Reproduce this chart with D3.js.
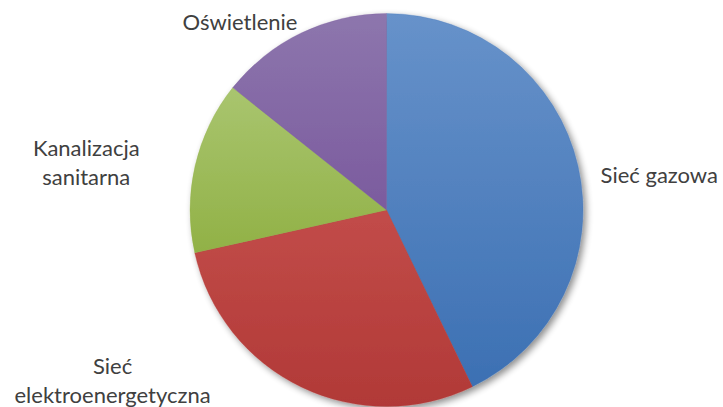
<!DOCTYPE html>
<html>
<head>
<meta charset="utf-8">
<script src="https://cdn.jsdelivr.net/npm/d3@7"></script>
<style>
  html, body { margin: 0; padding: 0; background: #ffffff; }
  svg { display: block; }
</style>
</head>
<body>
<svg id="chart" width="723" height="407"></svg>
<script>
// ---- data ----
const categories = ["Sieć gazowa", "Sieć elektroenergetyczna", "Kanalizacja sanitarna", "Oświetlenie"];
const values = [42.8, 28.7, 14.2, 14.3];
const labelLines = [["Sieć gazowa"], ["Sieć", "elektroenergetyczna"], ["Kanalizacja", "sanitarna"], ["Oświetlenie"]];
const colorsTop = ["#6792ca", "#c24c49", "#a9c56f", "#8d76ad"];
const colorsBottom = ["#3c70b3", "#b13937", "#91b146", "#7b5b9e"];

// ---- layout ----
const W = 723, H = 407;
const cx = 386.5, cy = 210, R = 196.5;
// label placement: angle (deg, clockwise from top) and radius from the pie centre
const labelPlace = [
  { angle: 82.7, radius: 275, anchor: "middle" },
  { angle: 238, radius: 323, anchor: "middle" },
  { angle: 279, radius: 304, anchor: "middle" },
  { angle: 322, radius: 238, anchor: "middle" }
];

const svg = d3.select("#chart");
const defs = svg.append("defs");

const shadow = defs.append("filter").attr("id", "shadow")
  .attr("x", "-20%").attr("y", "-20%").attr("width", "140%").attr("height", "140%");
shadow.append("feGaussianBlur").attr("in", "SourceAlpha").attr("stdDeviation", 3.5).attr("result", "b");
shadow.append("feOffset").attr("in", "b").attr("dx", 3).attr("dy", 3).attr("result", "o");
shadow.append("feComponentTransfer").attr("in", "o").attr("result", "s")
  .append("feFuncA").attr("type", "linear").attr("slope", 0.45);
const merge = shadow.append("feMerge");
merge.append("feMergeNode").attr("in", "s");
merge.append("feMergeNode").attr("in", "SourceGraphic");

categories.forEach((c, i) => {
  const g = defs.append("linearGradient").attr("id", "grad" + i)
    .attr("x1", 0).attr("y1", 0).attr("x2", 0).attr("y2", 1);
  g.append("stop").attr("offset", "0%").attr("stop-color", colorsTop[i]);
  g.append("stop").attr("offset", "100%").attr("stop-color", colorsBottom[i]);
});

const pie = d3.pie().sort(null).value(d => d)
  .startAngle(0).endAngle(2 * Math.PI);
const arcs = pie(values);
const arc = d3.arc().innerRadius(0).outerRadius(R);

const gPie = svg.append("g").attr("transform", `translate(${cx},${cy})`)
  .attr("filter", "url(#shadow)");
gPie.selectAll("path").data(arcs).join("path")
  .attr("d", arc)
  .attr("fill", (d, i) => `url(#grad${i})`)
  .attr("stroke", (d, i) => colorsBottom[i])
  .attr("stroke-width", 0.3);

// labels
const fontSize = 22, lineH = 29;
const gLab = svg.append("g").attr("transform", `translate(${cx},${cy})`);
labelLines.forEach((lines, i) => {
  const p = labelPlace[i];
  const a = p.angle * Math.PI / 180;
  const x = p.radius * Math.sin(a);
  const y = -p.radius * Math.cos(a);
  const t = gLab.append("text")
    .attr("x", x).attr("y", y)
    .attr("text-anchor", p.anchor)
    .attr("font-family", "Lato, 'Open Sans', sans-serif")
    .attr("font-size", fontSize)
    .attr("fill", "#404040");
  const n = lines.length;
  lines.forEach((ln, k) => {
    t.append("tspan").attr("x", x)
      .attr("y", y + (k - (n - 1) / 2) * lineH)
      .attr("dy", "0.35em")
      .text(ln);
  });
});
</script>
</body>
</html>
